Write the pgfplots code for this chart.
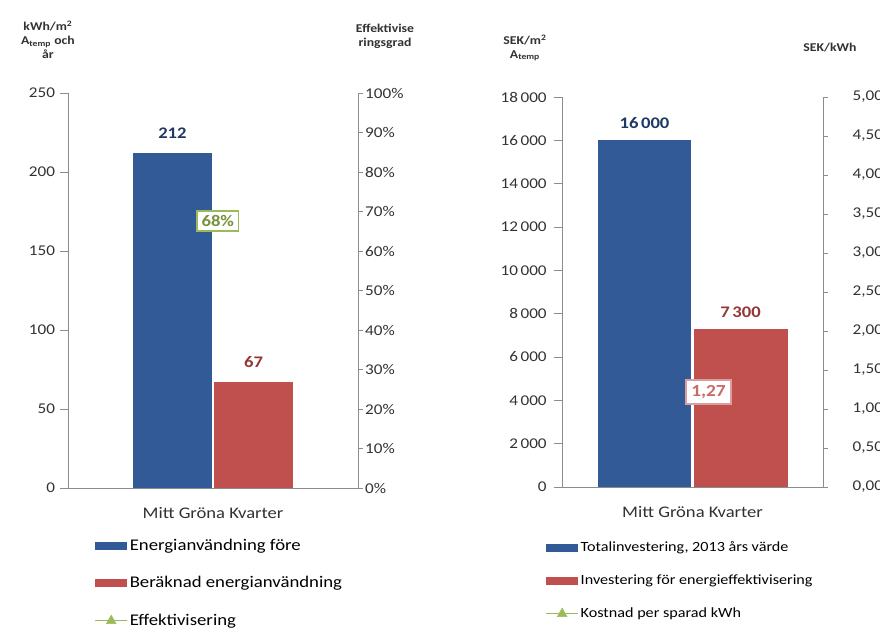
\documentclass[border=0pt]{standalone}
\usepackage{fontspec}
\setmainfont{Carlito}[FakeStretch=1.15]
\usepackage{pgfplots}
\pgfplotsset{compat=1.18}

\definecolor{barblue}{RGB}{49,90,150}
\definecolor{barred}{RGB}{192,80,77}
\definecolor{lgreen}{RGB}{155,187,89}
\definecolor{dgreen}{RGB}{118,146,60}
\definecolor{valblue}{RGB}{31,56,100}
\definecolor{valred}{RGB}{148,54,52}
\definecolor{axgray}{RGB}{140,140,140}
\definecolor{txt}{RGB}{50,50,50}

\pgfplotsset{
  panel/.style={
    scale only axis, anchor=south west,
    xmin=-1, xmax=1,
    scaled y ticks=false,
    /pgf/number format/assume math mode=true,
    tick label style={font=\fontsize{10.6}{13}\selectfont, text=txt},
    axis line style={-, axgray, line width=0.6pt},
    tick style={axgray, line width=0.6pt},
    tick align=outside,
  },
  leftside/.style={
    panel, axis y line*=left, axis x line*=bottom,
    xtick={0}, xtick style={draw=none},
    xticklabel style={yshift=-1.7mm, font=\fontsize{11.5}{13}\selectfont},
    major tick length=2mm,
    ybar,
    legend cell align=left,
  },
  rightside/.style={
    panel, axis y line*=right, axis x line=none,
    major tick length=1.2mm,
    yticklabel style={inner sep=1.5pt},
  },
  barleg/.style={legend image code/.code={\fill[#1] (0mm,-1mm) rectangle (8mm,1mm);}},
  lineleg/.style={legend image code/.code={
    \draw[lgreen, line width=1.2pt] (0mm,0mm) -- (8mm,0mm);
    \fill[lgreen] (4mm,1.3mm) -- (2.8mm,-0.8mm) -- (5.2mm,-0.8mm) -- cycle;}},
}

\begin{document}
\begin{tikzpicture}[x=0.25mm, y=0.25mm]

% ---------- left panel: energy use ----------
\begin{axis}[leftside,
  at={(17mm,35.5mm)}, width=72.5mm, height=98.75mm,
  ymin=0, ymax=250, ytick={0,50,...,250},
  xticklabels={Mitt Gröna Kvarter},
  legend style={at={(0.09,-0.125)}, anchor=north west, draw=none, fill=none,
    inner sep=0pt, row sep=5.1mm, font=\fontsize{11.6}{13}\selectfont,
    nodes={inner sep=1.2pt}},
]
\addplot[fill=barblue, draw=none, bar width=0.54, bar shift=-0.28, barleg=barblue,
  nodes near coords,
  every node near coord/.append style={text=valblue, font=\bfseries\fontsize{11.5}{13}\selectfont, yshift=2.4mm}]
  coordinates {(0,212)};
\addlegendentry{Energianvändning före}
\addplot[fill=barred, draw=none, bar width=0.54, bar shift=0.28, barleg=barred,
  nodes near coords,
  every node near coord/.append style={text=valred, font=\bfseries\fontsize{11.5}{13}\selectfont, yshift=2.4mm}]
  coordinates {(0,67)};
\addlegendentry{Beräknad energianvändning}
\addlegendimage{lineleg}
\addlegendentry{Effektivisering}
\end{axis}

\begin{axis}[rightside,
  at={(17mm,35.5mm)}, width=72.5mm, height=98.75mm,
  ymin=0, ymax=100, ytick={0,10,...,100},
  yticklabel={\pgfmathprintnumber{\tick}\%},
]
\addplot[lgreen, mark=none,
  nodes near coords={\pgfmathprintnumber{\pgfplotspointmeta}\%},
  every node near coord/.append style={anchor=center, draw=lgreen, line width=1.4pt,
    fill=white, text=dgreen, inner sep=3.2pt, xshift=1.2mm, yshift=-0.4mm,
    font=\bfseries\fontsize{11.5}{12}\selectfont}]
  coordinates {(0,68)};
\end{axis}

% ---------- right panel: investment ----------
\begin{axis}[leftside,
  at={(140.5mm,35.75mm)}, width=65.25mm, height=97.5mm,
  ymin=0, ymax=18000, ytick={0,2000,...,18000},
  /pgf/number format/1000 sep={\,},
  yticklabel style={xshift=-0.6mm},
  xticklabels={Mitt Gröna Kvarter},
  legend style={at={(-0.065,-0.135)}, anchor=north west, draw=none, fill=none,
    inner sep=0pt, row sep=4.4mm, font=\fontsize{10}{11}\selectfont,
    nodes={inner sep=1.2pt}},
]
\addplot[fill=barblue, draw=none, bar width=0.72, bar shift=-0.368, barleg=barblue,
  nodes near coords,
  every node near coord/.append style={text=valblue, font=\bfseries\fontsize{11.5}{13}\selectfont, yshift=1.6mm}]
  coordinates {(0,16000)};
\addlegendentry{Totalinvestering, 2013 års värde}
\addplot[fill=barred, draw=none, bar width=0.72, bar shift=0.368, barleg=barred,
  nodes near coords,
  every node near coord/.append style={text=valred, font=\bfseries\fontsize{11.5}{13}\selectfont, yshift=1.6mm}]
  coordinates {(0,7300)};
\addlegendentry{Investering för energieffektivisering}
\addlegendimage{lineleg}
\addlegendentry{Kostnad per sparad kWh}
\end{axis}

\begin{axis}[rightside,
  at={(140.5mm,35.75mm)}, width=65.25mm, height=97.5mm,
  ymin=0, ymax=5, ytick={0,0.5,...,5},
  /pgf/number format/fixed, /pgf/number format/fixed zerofill,
  /pgf/number format/precision=3, /pgf/number format/use comma,
  yticklabel style={xshift=5.6mm},
]
\addplot[lgreen, mark=none,
  nodes near coords={\pgfmathprintnumber[fixed, fixed zerofill, precision=2, use comma]{\pgfplotspointmeta}},
  every node near coord/.append style={anchor=center, draw=barred!55, line width=1.4pt,
    fill=white, text=barred!85, inner sep=3.6pt, xshift=4mm, yshift=-1mm,
    font=\bfseries\fontsize{12}{13}\selectfont}]
  coordinates {(0,1.27)};
\end{axis}

% ---------- axis titles ----------
\node[align=center, font=\bfseries\fontsize{8.5}{10}\selectfont, text=txt] at (48,590)
  {kWh/m\textsuperscript{2}\\A\textsubscript{temp} och\\år};
\node[align=center, font=\bfseries\fontsize{8.5}{10}\selectfont, text=txt] at (385,594)
  {Effektivise\\ringsgrad};
\node[align=center, font=\bfseries\fontsize{8.5}{10}\selectfont, text=txt] at (525,582)
  {SEK/m\textsuperscript{2}\\A\textsubscript{temp}};
\node[font=\bfseries\fontsize{8.5}{10}\selectfont, text=txt] at (830,582) {SEK/kWh};

\pgfresetboundingbox
\path[use as bounding box] (0,0) rectangle (880,630);
\end{tikzpicture}
\end{document}
